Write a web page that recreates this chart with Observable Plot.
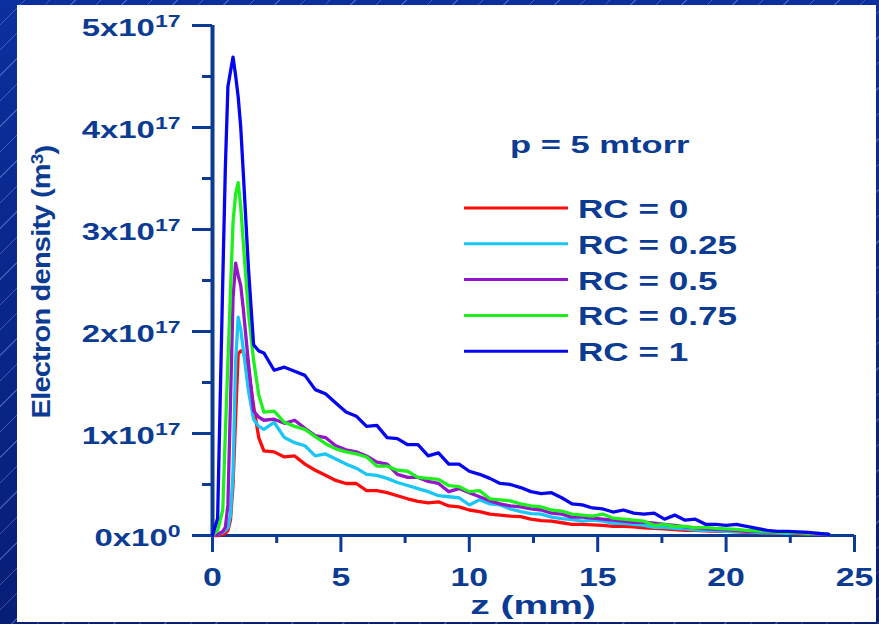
<!DOCTYPE html>
<html><head><meta charset="utf-8">
<script src="https://cdn.jsdelivr.net/npm/d3@7"></script>
<script src="https://cdn.jsdelivr.net/npm/@observablehq/plot@0.6"></script>
<style>
html,body{margin:0;padding:0;width:879px;height:624px;overflow:hidden;}
body{background-color:#0a2a8e;
background-image:repeating-linear-gradient(135deg, rgba(255,255,255,0) 0 17px, rgba(170,185,255,0.35) 17px 18px), linear-gradient(#0b2f9e, #071e76);}
#panel{position:absolute;left:17px;top:5px;width:859px;height:617px;background:#fff;}
#chart{position:absolute;left:0;top:0;}
</style></head><body>
<div id="panel"></div><div id="chart"></div>
<script>
// ---- data (electron density in units of 1e17 m^-3) ----
const zs = [0,0.2,0.4,0.5,0.6,0.7,0.8,0.9,1.0,1.1,1.2,1.4,1.6,1.8,
  2.0,2.4,2.8,3.2,3.6,4.0,4.4,4.8,5.2,5.6,6.0,6.4,6.8,7.2,7.6,8.0,
  8.4,8.8,9.2,9.6,10.0,10.4,10.8,11.2,11.6,12.0,12.4,12.8,13.2,13.6,14.0,14.4,14.8,15.2,15.6,
  16.0,16.4,16.8,17.2,17.6,18.0,18.4,18.8,19.2,19.6,20.0,20.4,20.8,21.2,21.6,22.0,22.4,22.8,23.2,23.6,24.0];

const seriesNames = ["RC = 0","RC = 0.25","RC = 0.5","RC = 0.75","RC = 1"];
const seriesColors = ["#ff0a0a","#1ac6f5","#9515c8","#1ef01e","#0505f0"];

const rc0 = [0,0,0.01,0.02,0.05,0.15,0.5,1.15,1.78,1.81,1.80,1.63,1.27,0.96,
  0.83,0.82,0.77,0.78,0.70,0.64,0.59,0.54,0.51,0.51,0.44,0.44,0.42,0.39,0.36,0.335,
  0.32,0.33,0.29,0.28,0.25,0.235,0.21,0.20,0.19,0.185,0.16,0.145,0.14,0.125,0.11,0.11,0.105,0.10,0.09,
  0.09,0.085,0.075,0.07,0.065,0.058,0.05,0.05,0.045,0.04,0.04,0.035,0.03,0.028,0.025,0.022,0.02,0.016,0.014,0.012,0.01];
const rc025 = [0,0.01,0.03,0.05,0.08,0.2,0.6,1.7,2.14,2.02,1.82,1.42,1.14,1.07,
  1.04,1.11,0.96,0.91,0.88,0.78,0.80,0.75,0.70,0.66,0.60,0.59,0.56,0.52,0.49,0.46,
  0.43,0.39,0.38,0.37,0.30,0.35,0.31,0.30,0.26,0.235,0.215,0.21,0.18,0.165,0.155,0.14,0.15,0.14,0.12,
  0.12,0.11,0.10,0.08,0.08,0.07,0.065,0.055,0.05,0.045,0.04,0.04,0.035,0.03,0.025,0.025,0.02,0.02,0.015,0.015,0.01];
const rc05 = [0,0.01,0.04,0.08,0.3,1.3,2.33,2.67,2.55,2.45,2.22,1.69,1.22,1.16,
  1.13,1.14,1.10,1.13,1.05,0.98,0.96,0.88,0.84,0.82,0.78,0.72,0.70,0.60,0.57,0.57,
  0.53,0.51,0.43,0.46,0.42,0.38,0.34,0.31,0.29,0.28,0.26,0.25,0.22,0.21,0.18,0.18,0.17,0.16,0.15,
  0.14,0.13,0.13,0.12,0.11,0.10,0.085,0.075,0.065,0.06,0.055,0.05,0.04,0.04,0.035,0.03,0.03,0.02,0.02,0.015,0.01];
const rc075 = [0,0.05,0.25,1.0,1.7,2.4,3.07,3.35,3.46,3.22,2.87,2.18,1.72,1.38,
  1.21,1.22,1.11,1.07,1.04,0.97,0.90,0.85,0.82,0.80,0.77,0.68,0.68,0.64,0.63,0.57,
  0.56,0.55,0.49,0.48,0.43,0.44,0.36,0.35,0.34,0.31,0.29,0.28,0.25,0.24,0.21,0.20,0.19,0.21,0.17,
  0.16,0.15,0.14,0.10,0.11,0.09,0.09,0.075,0.08,0.07,0.065,0.06,0.05,0.045,0.04,0.03,0.03,0.025,0.02,0.02,0.01];
const rc1 = [0,0.17,2.5,3.6,4.4,4.55,4.69,4.51,4.3,4.0,3.55,2.62,1.87,1.81,
  1.79,1.62,1.65,1.61,1.57,1.43,1.39,1.30,1.21,1.17,1.07,1.08,0.96,0.95,0.89,0.89,
  0.78,0.81,0.70,0.70,0.63,0.60,0.56,0.51,0.50,0.47,0.43,0.41,0.42,0.37,0.31,0.30,0.27,0.26,0.23,
  0.25,0.22,0.21,0.22,0.16,0.20,0.15,0.16,0.11,0.11,0.10,0.11,0.09,0.07,0.05,0.04,0.04,0.035,0.03,0.02,0.01];

const yMajor = [0,1,2,3,4,5];
const yMinor = [0.5,1.5,2.5,3.5,4.5];
const xMajor = [0,5,10,15,20,25];
const xMinor = [2.5,7.5,12.5,17.5,22.5];
const pressureLabel = "p = 5 mtorr";
const xTitle = "z (mm)";
const yTitle = "Electron density (m";

// ---- build ----
const C = "#0c3b94";
const FONT = "'Liberation Sans', Arial, sans-serif";
const allValues = [rc0, rc025, rc05, rc075, rc1];
const data = seriesNames.flatMap((s, i) => zs.map((z, j) => ({z, v: allValues[i][j], series: s})));

const chart = Plot.plot({
  width: 879, height: 624,
  marginLeft: 212, marginRight: 25, marginTop: 25, marginBottom: 89,
  x: {domain: [0, 25]},
  y: {domain: [0, 5]},
  color: {domain: seriesNames, range: seriesColors},
  style: {background: "transparent", overflow: "visible", color: C, fontFamily: FONT},
  marks: [
    Plot.axisY(yMajor, {tickSize: 20, tickPadding: 12, strokeWidth: 3, tickFormat: d => `${d}x10`, label: null}),
    Plot.axisY(yMinor, {tickSize: 10, strokeWidth: 3, tickFormat: () => "", label: null}),
    Plot.axisX(xMajor, {tickSize: 17, tickPadding: 15, strokeWidth: 3, tickFormat: d => `${d}`, label: null}),
    Plot.axisX(xMinor, {tickSize: 8, strokeWidth: 3, tickFormat: () => "", label: null}),
    Plot.ruleX([0], {stroke: C, strokeWidth: 4}),
    Plot.ruleY([0], {stroke: C, strokeWidth: 3}),
    Plot.line(data, {x: "z", y: "v", stroke: "series", strokeWidth: 3.3, strokeLinejoin: "round"})
  ]
});
document.getElementById("chart").appendChild(chart);

const svg = d3.select(chart);
const xs = chart.scale("x"), ys = chart.scale("y");

// y tick labels with superscripts
svg.selectAll('g[aria-label="y-axis tick label"] text').each(function() {
  const t = d3.select(this);
  const s = t.text();
  if (!s) return;
  const d = s.split("x")[0];
  t.text(null).attr("font-size", 23.5).attr("font-weight", "bold").attr("fill", C).attr("text-anchor", "end");
  t.append("tspan").text(d + "x10");
  t.append("tspan").attr("dy", "-0.55em").attr("font-size", "0.7em").text(d === "0" ? "0" : "17");
  t.attr("transform", (t.attr("transform") || "") + " translate(0,3) scale(1.4,1)");
});
// x tick labels
svg.selectAll('g[aria-label="x-axis tick label"] text').each(function() {
  const t = d3.select(this);
  if (!t.text()) return;
  t.attr("font-size", 26).attr("font-weight", "bold").attr("fill", C);
  t.attr("transform", (t.attr("transform") || "") + " scale(1.3,1)");
});

// x title
const xMid = (xs.apply(0) + xs.apply(25)) / 2;
svg.append("text").attr("transform", `translate(${xMid},614) scale(1.5,1)`)
  .attr("text-anchor", "middle").attr("font-size", 26).attr("font-weight", "bold")
  .attr("fill", C).attr("font-family", FONT).text(xTitle);

// y title
const yMid = (ys.apply(0) + ys.apply(5)) / 2 + 2;
const yt = svg.append("text").attr("transform", `translate(50,${yMid}) rotate(-90) scale(1.32,1.15)`)
  .attr("text-anchor", "middle").attr("font-size", 22).attr("font-weight", "bold")
  .attr("fill", C).attr("font-family", FONT).attr("letter-spacing", "-0.6");
yt.append("tspan").text(yTitle);
yt.append("tspan").attr("dy", "-0.45em").attr("font-size", "0.65em").text("3");
yt.append("tspan").attr("dy", "0.45em").text(")");

// legend
svg.append("text").attr("transform", "translate(510,153) scale(1.44,1)")
  .attr("text-anchor", "start")
  .attr("font-size", 24).attr("font-weight", "bold").attr("fill", C)
  .attr("font-family", FONT).text(pressureLabel);
seriesNames.forEach((s, i) => {
  const ry = 208 + i * 35.8;
  svg.append("line").attr("x1", 464).attr("x2", 568).attr("y1", ry).attr("y2", ry)
    .attr("stroke", seriesColors[i]).attr("stroke-width", 3);
  svg.append("text").attr("transform", `translate(578,${ry + 10}) scale(1.35,1)`)
    .attr("text-anchor", "start")
    .attr("font-size", 26).attr("font-weight", "bold").attr("fill", C)
    .attr("font-family", FONT).text(s);
});
</script></body></html>
